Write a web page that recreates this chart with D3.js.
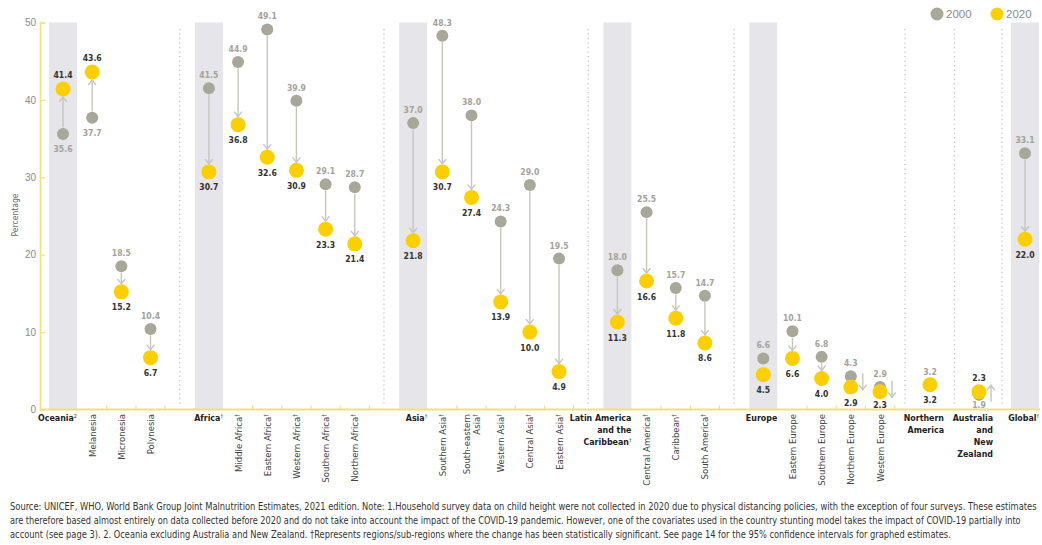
<!DOCTYPE html>
<html>
<head>
<meta charset="utf-8">
<script src="https://cdn.jsdelivr.net/npm/d3@7"></script>
<style>
  html, body { margin: 0; padding: 0; background: #fff; }
  svg { display: block; }
</style>
</head>
<body>
<svg id="chart" width="1042" height="545"></svg>
<script>
// ---------------- DATA ----------------
const categories = [
  "Oceania", "Melanesia", "Micronesia", "Polynesia",
  "Africa", "Middle Africa", "Eastern Africa", "Western Africa", "Southern Africa", "Northern Africa",
  "Asia", "Southern Asia", "South-eastern Asia", "Western Asia", "Central Asia", "Eastern Asia",
  "Latin America and the Caribbean", "Central America", "Caribbean", "South America",
  "Europe", "Eastern Europe", "Southern Europe", "Northern Europe", "Western Europe",
  "Northern America", "Australia and New Zealand", "Global"
];
const labelLines = [
  ["Oceania"], ["Melanesia"], ["Micronesia"], ["Polynesia"],
  ["Africa"], ["Middle Africa"], ["Eastern Africa"], ["Western Africa"], ["Southern Africa"], ["Northern Africa"],
  ["Asia"], ["Southern Asia"], ["South-eastern", "Asia"], ["Western Asia"], ["Central Asia"], ["Eastern Asia"],
  ["Latin America", "and the", "Caribbean"], ["Central America"], ["Caribbean"], ["South America"],
  ["Europe"], ["Eastern Europe"], ["Southern Europe"], ["Northern Europe"], ["Western Europe"],
  ["Northern", "America"], ["Australia", "and", "New", "Zealand"], ["Global"]
];
const footMarks = [
  "2", "", "", "",
  "†", "†", "†", "†", "†", "†",
  "†", "†", "†", "†", "†", "†",
  "†", "†", "†", "†",
  "", "", "", "", "",
  "", "", "†"
];
const values2000 = [
  35.6, 37.7, 18.5, 10.4,
  41.5, 44.9, 49.1, 39.9, 29.1, 28.7,
  37.0, 48.3, 38.0, 24.3, 29.0, 19.5,
  18.0, 25.5, 15.7, 14.7,
  6.6, 10.1, 6.8, 4.3, 2.9,
  3.2, 1.9, 33.1
];
const values2020 = [
  41.4, 43.6, 15.2, 6.7,
  30.7, 36.8, 32.6, 30.9, 23.3, 21.4,
  21.8, 30.7, 27.4, 13.9, 10.0, 4.9,
  11.3, 16.6, 11.8, 8.6,
  4.5, 6.6, 4.0, 2.9, 2.3,
  3.2, 2.3, 22.0
];
const regions = ["Oceania", "Africa", "Asia", "Latin America and the Caribbean", "Europe",
                 "Northern America", "Australia and New Zealand", "Global"];
const shadedRegions = ["Oceania", "Africa", "Asia", "Latin America and the Caribbean", "Europe", "Global"];
const yTicks = [0, 10, 20, 30, 40, 50];
const legendItems = ["2000", "2020"];
const yTitle = "Percentage";
const sourceLines = [
  "Source: UNICEF, WHO, World Bank Group Joint Malnutrition Estimates, 2021 edition. Note: 1.Household survey data on child height were not collected in 2020 due to physical distancing policies, with the exception of four surveys. These estimates",
  "are therefore based almost entirely on data collected before 2020 and do not take into account the impact of the COVID-19 pandemic. However, one of the covariates used in the country stunting model takes the impact of COVID-19 partially into",
  "account (see page 3).  2. Oceania excluding Australia and New Zealand.  †Represents regions/sub-regions where the change has been statistically significant. See page 14 for the 95% confidence intervals for graphed estimates."
];

// ---------------- STYLE / LAYOUT ----------------
const C_GREY = "#a7a897", C_YELLOW = "#fcd000", C_AXIS = "#f4e07a",
      C_BAND = "#e6e5ea", C_ARROW = "#c6c6bf", C_TXT = "#333",
      C_GREYTXT = "#a3a399";
const NARROW = "'Liberation Sans Narrow','DejaVu Sans Condensed','Roboto',sans-serif";
const SANS = "'Liberation Sans','Roboto',sans-serif";

const svg = d3.select("#chart");

// slot index: a separator slot is inserted before every region (except the first)
const slotOf = {};
const sepSlots = [];
let s = 0;
categories.forEach((c, i) => {
  if (regions.includes(c) && i > 0) { sepSlots.push(s); s++; }
  slotOf[c] = s; s++;
});
const x = d3.scaleLinear().domain([0, 28, 30, 32, 34]).range([63, 880, 930, 979, 1025]);
const y = d3.scaleLinear().domain([0, 50]).range([409.5, 22.5]);

const data = categories.map((c, i) => ({
  name: c, i, v0: values2000[i], v1: values2020[i],
  cx: x(slotOf[c]), lines: labelLines[i], mark: footMarks[i],
  region: regions.includes(c), shaded: shadedRegions.includes(c)
}));

// shaded bands
svg.append("g").selectAll("rect").data(data.filter(d => d.shaded)).join("rect")
  .attr("x", d => d.cx - 14).attr("width", 28)
  .attr("y", y(50)).attr("height", y(0) - y(50))
  .attr("fill", C_BAND);

// dotted separators
svg.append("g").selectAll("line").data(sepSlots).join("line")
  .attr("x1", d => x(d)).attr("x2", d => x(d))
  .attr("y1", 29).attr("y2", 404)
  .attr("stroke", "#c4c4c4").attr("stroke-width", 1.3)
  .attr("stroke-dasharray", "1.3,3.2");

// y axis
const yAxis = svg.append("g").attr("transform", "translate(40,0)")
  .call(d3.axisRight(y).tickValues(yTicks).tickSize(5).tickFormat(d3.format("d")));
yAxis.select(".domain").attr("stroke", C_AXIS).attr("stroke-width", 1.6);
yAxis.selectAll(".tick line").attr("stroke", C_AXIS).attr("stroke-width", 1.2);
yAxis.selectAll(".tick text").attr("x", -4).attr("text-anchor", "end")
  .attr("fill", "#8a8a8a").style("font-family", SANS).style("font-size", "10px");

// y title
svg.append("text").attr("transform", `translate(18,215) rotate(-90)`)
  .attr("text-anchor", "middle").attr("fill", "#666")
  .style("font-family", NARROW).style("font-size", "8.5px").text(yTitle);

// x axis line
svg.append("line").attr("x1", 40).attr("x2", 1040).attr("y1", y(0)).attr("y2", y(0))
  .attr("stroke", C_AXIS).attr("stroke-width", 2);
// small ticks between neighbouring sub-regions
const tickXs = [];
for (let i = 1; i < data.length; i++) {
  const a = data[i - 1], b = data[i];
  if (!b.region && !a.region) tickXs.push((a.cx + b.cx) / 2);
  if (!a.region && b.region) tickXs.push(a.cx + 14.5);
}
svg.append("g").selectAll("line").data(tickXs).join("line")
  .attr("x1", d => d).attr("x2", d => d).attr("y1", y(0) - 4).attr("y2", y(0))
  .attr("stroke", C_AXIS).attr("stroke-width", 1.2);

// arrows
const R0 = 6, R1 = 7.5;
const arrows = svg.append("g").attr("fill", "none").attr("stroke", C_ARROW)
  .attr("stroke-width", 1.4).attr("stroke-linejoin", "round").attr("stroke-linecap", "round");
data.forEach(d => {
  const y0 = y(d.v0), y1 = y(d.v1);
  const dist = Math.abs(y1 - y0);
  if (dist === 0) return;
  const sg = y1 > y0 ? 1 : -1; // +1 means arrow goes down
  if (dist >= 18) {
    const a = y0 + sg * (R0 + 1), b = y1 - sg * (R1 + 0.5);
    arrows.append("line").attr("x1", d.cx).attr("x2", d.cx).attr("y1", a).attr("y2", b);
    arrows.append("polyline").attr("points",
      `${d.cx - 3.5},${b - sg * 4.5} ${d.cx},${b} ${d.cx + 3.5},${b - sg * 4.5}`);
  } else if (dist < 13) {
    const ax = d.cx + 12, mid = (y0 + y1) / 2;
    const a = mid - sg * 8, b = mid + sg * 8;
    arrows.append("line").attr("x1", ax).attr("x2", ax).attr("y1", a).attr("y2", b);
    arrows.append("polyline").attr("points",
      `${ax - 3.5},${b - sg * 4.5} ${ax},${b} ${ax + 3.5},${b - sg * 4.5}`);
  }
});

// dots
svg.append("g").selectAll("circle").data(data).join("circle")
  .attr("cx", d => d.cx).attr("cy", d => y(d.v0)).attr("r", R0).attr("fill", C_GREY);
svg.append("g").selectAll("circle").data(data).join("circle")
  .attr("cx", d => d.cx).attr("cy", d => y(d.v1)).attr("r", R1).attr("fill", C_YELLOW);

// value labels
const fmt = d3.format(".1f");
const vl = svg.append("g").style("font-family", NARROW).style("font-size", "8.6px")
  .style("font-stretch", "condensed").style("font-weight", "bold").attr("text-anchor", "middle");
const below = v => Math.min(y(v) + 18.5, 408);
data.forEach(d => {
  const up = d.v1 > d.v0;
  // 2000 label
  vl.append("text").attr("x", d.cx)
    .attr("y", up ? below(d.v0) : y(d.v0) - 10)
    .attr("fill", C_GREYTXT).text(fmt(d.v0));
  // 2020 label
  vl.append("text").attr("x", d.cx)
    .attr("y", up ? y(d.v1) - 11 : below(d.v1))
    .attr("fill", C_TXT).text(fmt(d.v1));
});

// category labels
const cl = svg.append("g");
data.forEach(d => {
  if (d.region) {
    const t = cl.append("text").attr("text-anchor", "end")
      .attr("fill", "#222").style("font-family", NARROW).style("font-stretch", "condensed")
      .style("font-size", "8.8px").style("font-weight", "bold");
    d.lines.forEach((ln, k) => {
      t.append("tspan").attr("x", d.cx + 14).attr("y", 421 + k * 12).text(ln);
      if (k === d.lines.length - 1 && d.mark) {
        t.append("tspan").attr("dy", -3).style("font-size", "5.5px").style("font-weight", "normal").text(d.mark);
      }
    });
  } else {
    const n = d.lines.length;
    d.lines.forEach((ln, k) => {
      const off = (k - (n - 1) / 2) * 10.5;
      const t = cl.append("text").attr("text-anchor", "end")
        .attr("transform", `translate(${d.cx + 3.5 + off},414) rotate(-90)`)
        .attr("fill", "#444").style("font-family", NARROW).style("font-stretch", "condensed")
        .style("font-size", "9.5px");
      t.append("tspan").text(ln);
      if (k === n - 1 && d.mark) {
        t.append("tspan").attr("dy", -3).style("font-size", "6px").text(d.mark);
      }
    });
  }
});

// legend
const lg = svg.append("g");
const legX = d3.scalePoint().domain(legendItems).range([937, 997]);
const legC = d3.scaleOrdinal().domain(legendItems).range([C_GREY, C_YELLOW]);
legendItems.forEach(k => {
  lg.append("circle").attr("cx", legX(k)).attr("cy", 14).attr("r", 6.5).attr("fill", legC(k));
  lg.append("text").attr("x", legX(k) + 9).attr("y", 18).attr("fill", "#8a8a8a")
    .style("font-family", SANS).style("font-size", "11.5px").text(k);
});

// source text, squeezed horizontally to the reference line widths
const srcW = [1028, 1012, 942];
svg.append("g").selectAll("text").data(sourceLines).join("text")
  .attr("x", 0).attr("y", 0)
  .attr("fill", "#333").style("font-family", NARROW).style("font-size", "10px")
  .text(d => d)
  .each(function (d, i) {
    const w = this.getComputedTextLength();
    const k = srcW[i] / w;
    d3.select(this).attr("transform", `translate(10,${510 + i * 14}) scale(${k},1)`);
  });
</script>
</body>
</html>
